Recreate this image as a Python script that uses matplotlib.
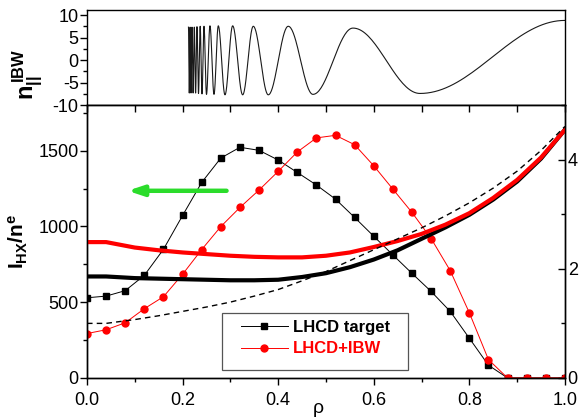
import numpy as np
import matplotlib
matplotlib.use("Agg")
import matplotlib.pyplot as plt
from matplotlib.ticker import MultipleLocator
from matplotlib.patches import Rectangle

plt.rcParams["font.family"] = ["Liberation Sans", "DejaVu Sans"]
plt.rcParams["axes.unicode_minus"] = False
plt.rcParams["mathtext.fontset"] = "custom"
plt.rcParams["mathtext.rm"] = "Liberation Sans:bold"
plt.rcParams["mathtext.bf"] = "Liberation Sans:bold"
plt.rcParams["mathtext.it"] = "Liberation Sans:bold"
plt.rcParams["mathtext.default"] = "rm"

# ---- IBW parallel refractive index: turning points of the wave (rho, n_par) ----
wave_rho = [0.2123, 0.2140, 0.2157, 0.2176, 0.2197, 0.2220, 0.2245, 0.2272,
            0.2301, 0.2333, 0.2368, 0.2406, 0.2448, 0.2500, 0.2573, 0.2657,
            0.2747, 0.2887, 0.3048, 0.3257, 0.3479, 0.3793, 0.4211, 0.4728,
            0.5565, 0.6967, 1.0]
wave_n = [7.3, -7.3, 7.3, -7.3, 7.3, -7.3, 7.3, -7.3,
          7.4, -7.4, 7.5, -7.5, 7.5, -7.6, 7.6, -7.6,
          7.6, -7.7, 7.6, -7.7, 7.5, -7.7, 7.5, -7.6,
          7.1, -7.4, 8.8]

# ---- hard X-ray intensity / density (left axis) ----
rho_hx = [0.00, 0.04, 0.08, 0.12, 0.16, 0.20, 0.24, 0.28, 0.32, 0.36, 0.40,
          0.44, 0.48, 0.52, 0.56, 0.60, 0.64, 0.68, 0.72, 0.76, 0.80, 0.84,
          0.88, 0.92, 0.96, 1.00]
hx_lhcd = [529, 540, 576, 677, 849, 1072, 1290, 1451, 1522, 1502, 1438,
           1356, 1273, 1180, 1059, 935, 812, 690, 571, 439, 262, 84,
           0, 0, 0, 0]
hx_lhcd_ibw = [293, 318, 364, 457, 536, 684, 847, 999, 1125, 1240, 1363,
               1491, 1584, 1601, 1539, 1400, 1246, 1092, 920, 708, 430, 121,
               0, 0, 0, 0]

# ---- profiles on the right axis ----
rho_prof = [0.00, 0.04, 0.10, 0.15, 0.20, 0.25, 0.30, 0.35, 0.40, 0.45, 0.50,
            0.55, 0.60, 0.65, 0.70, 0.75, 0.80, 0.85, 0.90, 0.95, 1.00]
prof_lhcd = [1.86, 1.86, 1.83, 1.82, 1.81, 1.80, 1.79, 1.79, 1.80, 1.85, 1.92,
             2.03, 2.17, 2.34, 2.55, 2.76, 2.99, 3.27, 3.60, 4.02, 4.55]
prof_lhcd_ibw = [2.49, 2.49, 2.39, 2.34, 2.30, 2.27, 2.24, 2.22, 2.21, 2.21, 2.24,
                 2.30, 2.40, 2.51, 2.64, 2.81, 3.02, 3.30, 3.63, 4.04, 4.55]
prof_ref = [1.00, 1.00, 1.07, 1.14, 1.22, 1.30, 1.39, 1.50, 1.62, 1.78, 1.95,
            2.15, 2.35, 2.55, 2.75, 2.97, 3.21, 3.48, 3.79, 4.17, 4.61]

series_labels = ["LHCD target", "LHCD+IBW"]

TICK_FS = 13
GREEN = "#2bdc2b"

fig = plt.figure(figsize=(5.80, 4.19), dpi=100)
ax_top = fig.add_axes([0.150, 0.749, 0.824, 0.227])
ax = fig.add_axes([0.150, 0.098, 0.824, 0.651])

# ---------- upper panel: oscillating n_par ----------
# each half-wave between successive turning points drawn as a cosine arc
xs, ys = [], []
for i in range(len(wave_rho) - 1):
    t = np.linspace(0, 1, 40)
    x0, x1 = wave_rho[i], wave_rho[i + 1]
    v0, v1 = wave_n[i], wave_n[i + 1]
    xs.append(x0 + (x1 - x0) * t)
    ys.append(0.5 * (v0 + v1) + 0.5 * (v0 - v1) * np.cos(np.pi * t))
ax_top.plot(np.concatenate(xs), np.concatenate(ys), color="#1a1a1a", lw=0.8)

ax_top.set_xlim(0, 1.0)
ax_top.set_ylim(-10, 11.1)
ax_top.yaxis.set_major_locator(MultipleLocator(5))
ax_top.yaxis.set_minor_locator(MultipleLocator(2.5))
ax_top.tick_params(axis="x", which="both", bottom=False, labelbottom=False)
ax_top.tick_params(axis="y", which="major", direction="out", length=5, width=1,
                   labelsize=TICK_FS, pad=1)
ax_top.tick_params(axis="y", which="minor", direction="out", length=3, width=1)
ax_top.set_ylabel(r"$n_{||}^{\,IBW}$", fontsize=17)
ax_top.yaxis.set_label_coords(-0.088, 0.32)
for s in ax_top.spines.values():
    s.set_linewidth(1.0)

# ---------- lower panel ----------
ax.plot(rho_hx, hx_lhcd, color="black", lw=0.7, marker="s", ms=4.2,
        label=series_labels[0], clip_on=True)
ax.plot(rho_hx, hx_lhcd_ibw, color="#ff0000", lw=0.7, marker="o", ms=5,
        label=series_labels[1], clip_on=True)
ax.set_xlim(0, 1.0)
ax.set_ylim(0, 1800)
ax.xaxis.set_major_locator(MultipleLocator(0.2))
ax.xaxis.set_minor_locator(MultipleLocator(0.1))
ax.yaxis.set_major_locator(MultipleLocator(500))
ax.yaxis.set_minor_locator(MultipleLocator(250))
ax.tick_params(axis="both", which="major", direction="out", length=5, width=1,
               labelsize=TICK_FS)
ax.tick_params(axis="both", which="minor", direction="out", length=3, width=1)
ax.tick_params(axis="y", pad=1)
ax.tick_params(axis="x", pad=5)
ax.tick_params(axis="x", which="both", top=True)
for s in ax.spines.values():
    s.set_linewidth(1.0)
ax.set_ylabel(r"$I_{HX}/n^{e}$", fontsize=15)
ax.yaxis.set_label_coords(-0.12, 0.5)
ax.set_xlabel("ρ", fontsize=14)
ax.xaxis.set_label_coords(0.483, -0.082)

# inward ticks along the top edge of the lower panel
for t in ax.xaxis.get_major_ticks() + ax.xaxis.get_minor_ticks():
    t.tick2line.set_marker(3)
    t.tick2line.set_markersize(5)

ax2 = ax.twinx()
ax2.plot(rho_prof, prof_lhcd, color="black", lw=3)
ax2.plot(rho_prof, prof_lhcd_ibw, color="#ff0000", lw=3)
ax2.plot(rho_prof, prof_ref, color="black", lw=1, ls=(0, (4, 3)))
ax2.set_ylim(0, 5)
ax2.yaxis.set_major_locator(MultipleLocator(2))
ax2.yaxis.set_minor_locator(MultipleLocator(1))
ax2.tick_params(axis="y", which="major", direction="in", length=5, width=1,
                labelsize=TICK_FS, pad=2)
ax2.tick_params(axis="y", which="minor", direction="in", length=3, width=1)
for s in ax2.spines.values():
    s.set_linewidth(1.0)

# arrow pointing to the left-hand axis
ax.annotate("", xy=(0.085, 1235), xytext=(0.292, 1235),
            arrowprops=dict(arrowstyle="-|>,head_length=0.9,head_width=0.3",
                            color=GREEN, lw=3.2, shrinkA=0, shrinkB=0,
                            mutation_scale=10))

# legend with a hand-placed frame
ax.add_patch(Rectangle((0.282, 0.029), 0.390, 0.209, transform=ax.transAxes,
                       facecolor="white", edgecolor="#555555", lw=0.9, zorder=5))
leg = ax2.legend(handles=ax.get_lines()[:2], loc="upper left",
                 bbox_to_anchor=(0.322, 0.212), frameon=False,
                 borderpad=0, borderaxespad=0, handlelength=2.8,
                 handletextpad=0.3, labelspacing=0.38, numpoints=1,
                 prop={"weight": "bold", "size": 12})
leg.set_zorder(10)
for txt, col in zip(leg.get_texts(), ["black", "#ff0000"]):
    txt.set_color(col)

fig.savefig("out.png", dpi=100)
